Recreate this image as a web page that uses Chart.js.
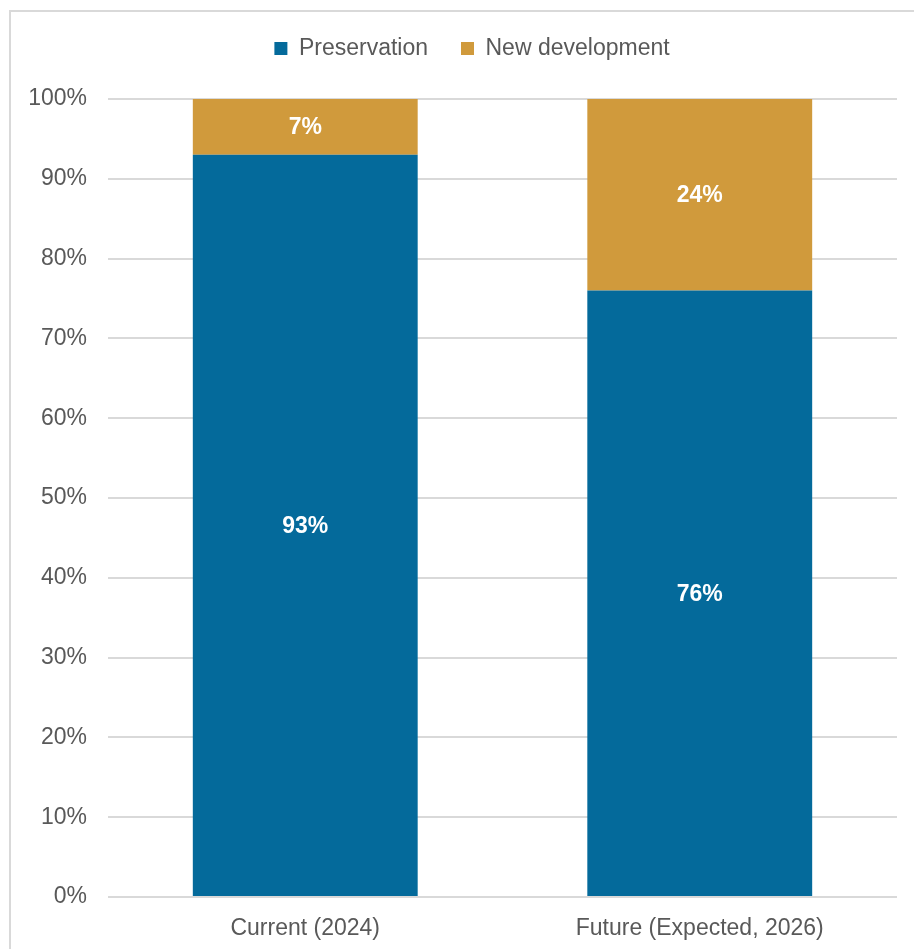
<!DOCTYPE html>
<html>
<head>
<meta charset="utf-8">
<script src="https://cdn.jsdelivr.net/npm/chart.js@4"></script>
<style>
  html, body { margin: 0; padding: 0; background: #fff; overflow: hidden; }
  #wrap { position: absolute; left: 0; top: 0; width: 914px; height: 949px; }
</style>
</head>
<body>
<div id="wrap"><canvas id="myChart" width="914" height="949"></canvas></div>
<script>
const categories = ['Current (2024)', 'Future (Expected, 2026)'];
const preservation = [93, 76];
const newDevelopment = [7, 24];
const yTicks = [0, 10, 20, 30, 40, 50, 60, 70, 80, 90, 100];

const font = "'Liberation Sans', Arial, sans-serif";
const textColor = '#595959';
const gridColor = '#d9d9d9';

// white background plus the thin outer frame
const frame = {
    id: 'frame',
    beforeDraw(chart) {
        const c = chart.ctx;
        c.save();
        c.fillStyle = '#fff';
        c.fillRect(0, 0, chart.width, chart.height);
        c.strokeStyle = gridColor;
        c.lineWidth = 2;
        c.strokeRect(10, 11, 1000, 1000);
        c.restore();
    }
};

// extra space under the legend, and nudge it to the right
const legendGap = {
    id: 'legendGap',
    beforeInit(chart) {
        const fit = chart.legend.fit;
        chart.legend.fit = function() {
            fit.bind(chart.legend)();
            this.height += 29;
        };
    },
    afterLayout(chart) {
        chart.legend.left += 47;
    }
};

// white bold value labels in the middle of each segment
const barLabels = {
    id: 'barLabels',
    afterDatasetsDraw(chart) {
        const c = chart.ctx;
        c.save();
        c.font = 'bold 23px ' + font;
        c.fillStyle = '#fff';
        c.textAlign = 'center';
        c.textBaseline = 'middle';
        chart.data.datasets.forEach((ds, i) => {
            chart.getDatasetMeta(i).data.forEach((bar, j) => {
                c.fillText(ds.data[j] + '%', bar.x, (bar.y + bar.base) / 2 + 1);
            });
        });
        c.restore();
    }
};

const ctx = document.getElementById('myChart');

new Chart(ctx, {
    type: 'bar',
    data: {
        labels: categories,
        datasets: [
            {
                label: 'Preservation',
                data: preservation,
                backgroundColor: '#046a9b'
            },
            {
                label: 'New development',
                data: newDevelopment,
                backgroundColor: '#d09a3c'
            }
        ]
    },
    options: {
        responsive: false,
        animation: false,
        categoryPercentage: 1,
        barPercentage: 0.57,
        layout: {
            padding: { left: 0, right: 17, top: 4, bottom: 0 }
        },
        scales: {
            x: {
                stacked: true,
                grid: { display: false },
                border: { display: false },
                ticks: {
                    color: textColor,
                    font: { family: font, size: 23 },
                    padding: 10
                },
                afterFit(scale) { scale.height = 52; }
            },
            y: {
                stacked: true,
                min: 0,
                max: 100,
                afterBuildTicks(scale) {
                    scale.ticks = yTicks.map(v => ({ value: v }));
                },
                grid: {
                    color: gridColor,
                    lineWidth: 2,
                    drawTicks: false
                },
                border: { display: false },
                ticks: {
                    color: textColor,
                    font: { family: font, size: 23 },
                    padding: 21,
                    callback: v => v + '%'
                },
                afterFit(scale) { scale.width = 108; }
            }
        },
        plugins: {
            legend: {
                position: 'top',
                labels: {
                    boxWidth: 13,
                    boxHeight: 13,
                    padding: 33,
                    color: textColor,
                    font: { family: font, size: 23 }
                }
            },
            tooltip: { enabled: false }
        }
    },
    plugins: [frame, legendGap, barLabels]
});
</script>
</body>
</html>
